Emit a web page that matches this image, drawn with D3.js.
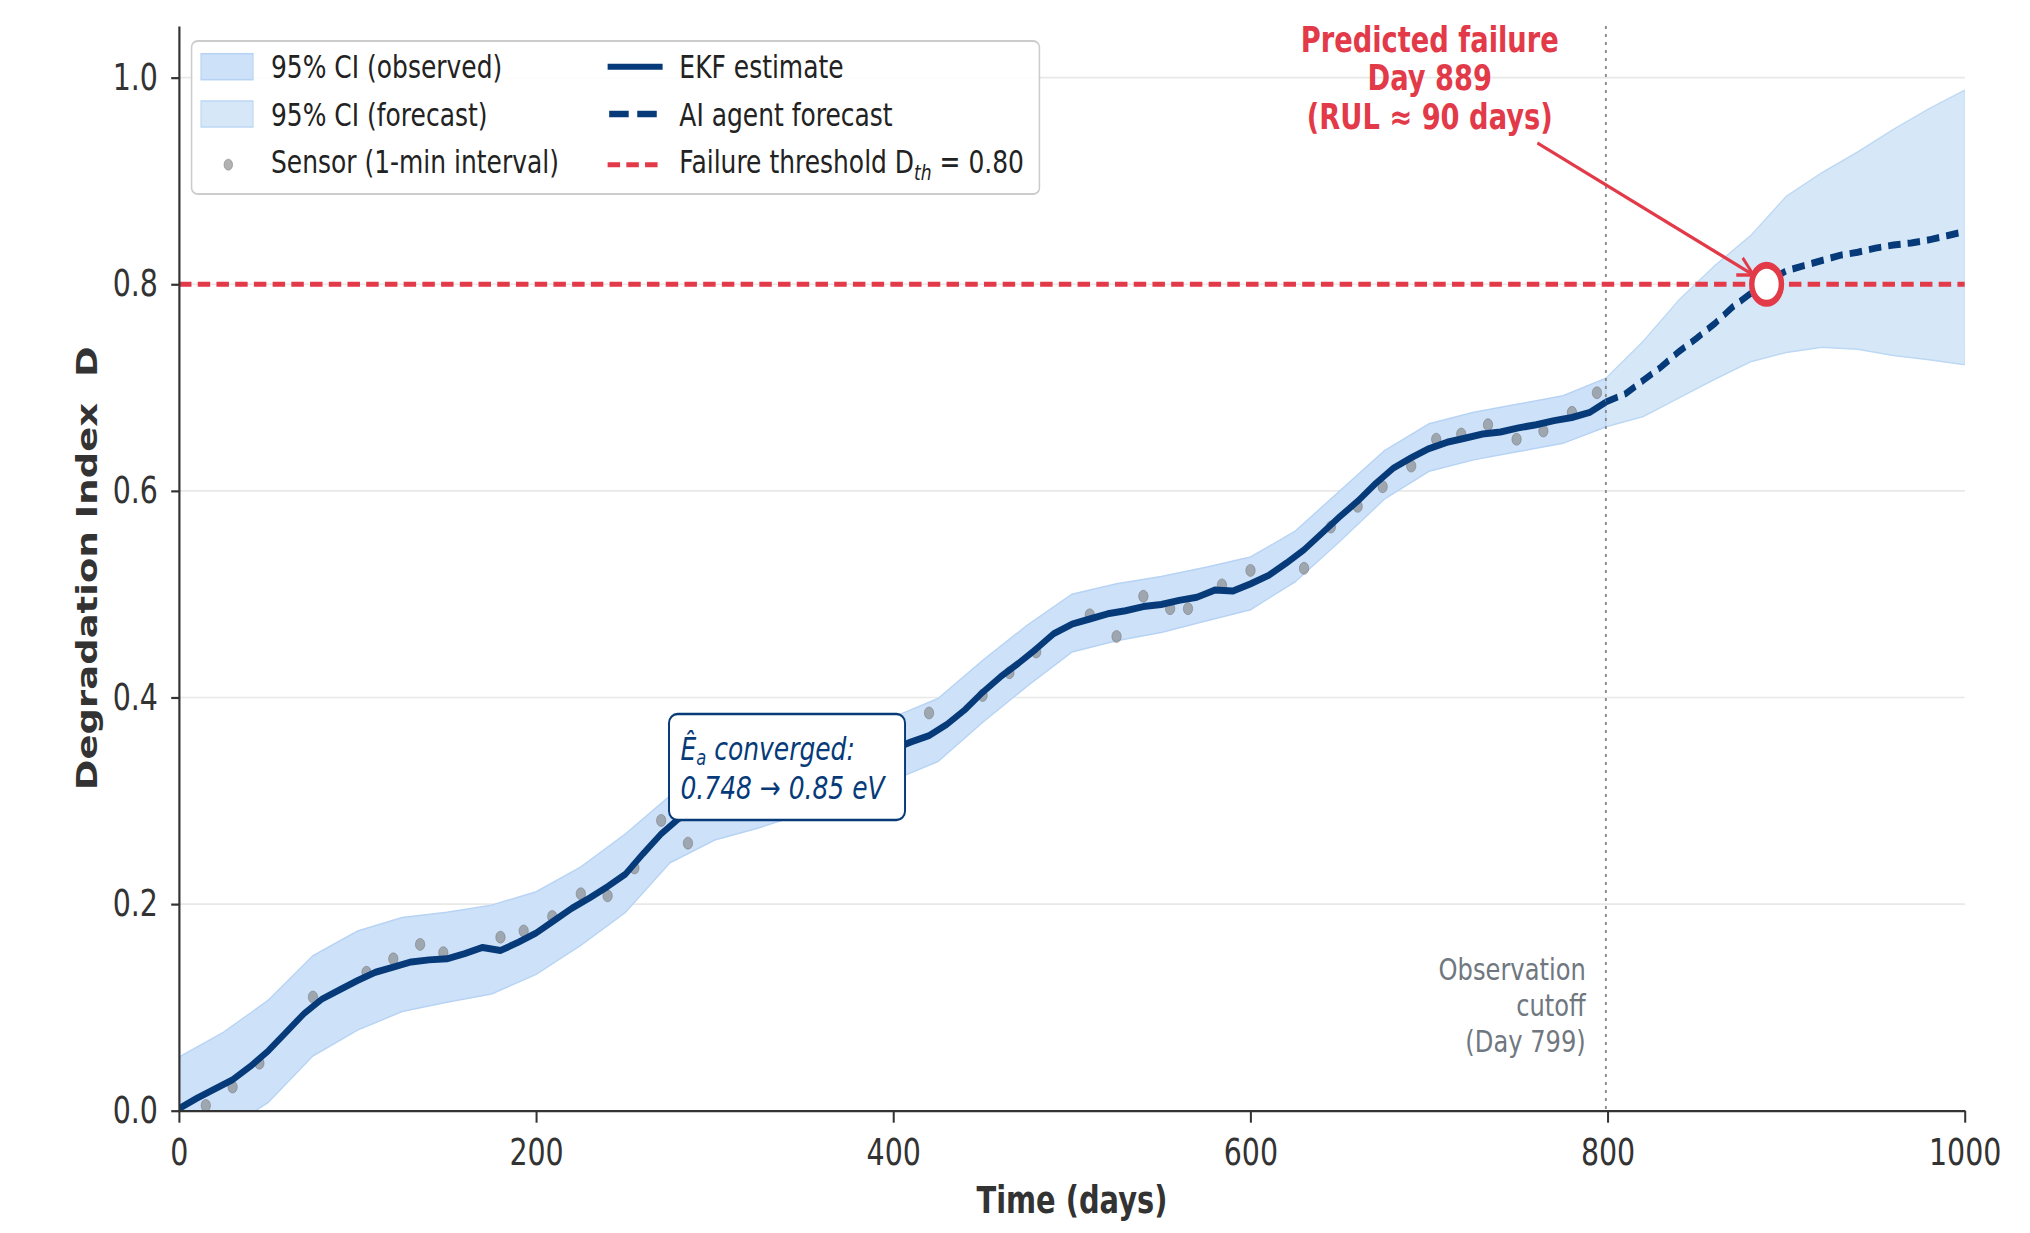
<!DOCTYPE html>
<html><head><meta charset="utf-8">
<script src="https://cdn.jsdelivr.net/npm/d3@7"></script>
<style>
html,body{margin:0;padding:0;background:#fff;}
svg{display:block;}
text{font-family:"DejaVu Sans",sans-serif;}
</style>
</head><body>
<svg id="chart"></svg>
<script>
// ---------- data ----------
const xTicks = [0, 200, 400, 600, 800, 1000];
const yTicks = [0.0, 0.2, 0.4, 0.6, 0.8, 1.0];

// EKF estimate [day, D]
const ekfObserved = [
 [0,0.002],[10,0.012],[20,0.021],[30,0.030],[40,0.043],[50,0.058],[60,0.076],[70,0.094],[80,0.108],[90,0.117],
 [100,0.126],[110,0.134],[120,0.139],[130,0.144],[140,0.146],[150,0.147],[160,0.152],[170,0.158],[180,0.155],[190,0.163],
 [200,0.172],[210,0.184],[220,0.196],[230,0.206],[240,0.217],[250,0.229],[260,0.249],[270,0.268],[280,0.283],[290,0.290],
 [300,0.293],[310,0.298],[320,0.303],[330,0.308],[340,0.313],[350,0.318],[360,0.323],[370,0.330],[380,0.337],[390,0.344],
 [400,0.350],[410,0.357],[420,0.363],[430,0.374],[440,0.388],[450,0.405],[460,0.420],[470,0.433],[480,0.447],[490,0.462],
 [500,0.471],[510,0.476],[520,0.481],[530,0.484],[540,0.488],[550,0.490],[560,0.494],[570,0.497],[580,0.504],[590,0.503],
 [600,0.510],[610,0.518],[620,0.530],[630,0.543],[640,0.559],[650,0.575],[660,0.590],[670,0.607],[680,0.622],[690,0.632],
 [700,0.641],[710,0.647],[720,0.651],[730,0.655],[740,0.657],[750,0.661],[760,0.664],[770,0.668],[780,0.671],[790,0.676],
 [799,0.686]
];
// AI agent forecast [day, D]
const aiForecast = [
 [799,0.686],[810,0.694],[820,0.707],[830,0.720],[840,0.735],[850,0.748],[860,0.762],[870,0.778],[880,0.791],[890,0.803],
 [900,0.813],[910,0.818],[920,0.823],[930,0.828],[940,0.831],[950,0.835],[960,0.838],[970,0.840],[980,0.843],[990,0.847],
 [1000,0.851]
];
// 95% CI observed [day, lower, upper]
const ciObserved = [
 [0,-0.045,0.052],[25,-0.020,0.076],[50,0.008,0.107],[75,0.053,0.150],[100,0.078,0.174],[125,0.096,0.187],
 [150,0.105,0.192],[175,0.113,0.199],[200,0.132,0.212],[225,0.160,0.236],[250,0.192,0.268],[275,0.240,0.305],
 [300,0.262,0.325],[325,0.274,0.337],[350,0.288,0.350],[375,0.303,0.364],[400,0.320,0.381],[425,0.338,0.399],
 [450,0.376,0.436],[475,0.411,0.470],[500,0.444,0.500],[525,0.455,0.510],[550,0.463,0.517],[575,0.474,0.526],
 [600,0.485,0.536],[625,0.512,0.561],[650,0.551,0.600],[675,0.592,0.639],[700,0.619,0.665],[725,0.630,0.676],
 [750,0.638,0.684],[775,0.646,0.692],[799,0.662,0.709]
];
// 95% CI forecast [day, lower, upper]
const ciForecast = [
 [799,0.662,0.709],[820,0.672,0.745],[840,0.690,0.785],[860,0.708,0.818],[880,0.725,0.847],[900,0.734,0.885],
 [920,0.739,0.908],[940,0.737,0.928],[960,0.731,0.950],[980,0.727,0.970],[1000,0.722,0.988]
];
// sensor samples [day, D]
const sensor = [
 [15,0.005],[30,0.023],[45,0.046],[75,0.110],[105,0.134],[120,0.147],[135,0.161],[148,0.153],[180,0.168],[193,0.174],
 [209,0.188],[225,0.210],[240,0.208],[255,0.235],[270,0.281],[285,0.259],[420,0.385],[450,0.402],[465,0.424],[480,0.444],
 [510,0.480],[525,0.459],[540,0.498],[555,0.486],[565,0.486],[584,0.509],[600,0.523],[630,0.525],[645,0.565],[660,0.585],
 [674,0.604],[690,0.624],[704,0.650],[718,0.655],[733,0.664],[749,0.650],[764,0.658],[780,0.676],[794,0.695]
];
const threshold = 0.80;
const cutoffDay = 799;
const failureDay = 889;
const legendLeft = ["95% CI (observed)", "95% CI (forecast)", "Sensor (1-min interval)"];
const legendRight = ["EKF estimate", "AI agent forecast", "Failure threshold D"];
const cutoffLabel = ["Observation", "cutoff", "(Day 799)"];
const failLabel = ["Predicted failure", "Day 889", "(RUL \u2248 90 days)"];

// ---------- styles ----------
const C = {
  navy: "#063a78", obsFill: "#cde1f9", obsEdge: "#b7d3f4", fcFill: "#d6e8f8", fcEdge: "#bcd8f4",
  red: "#e23a48", grid: "#e8e8e8", axis: "#333333", gray: "#6f7780", dot: "#7f7f7f"
};

const W = 2030, H = 1233, S = 0.78, VW = W / S;
const svg = d3.select("#chart").attr("width", W).attr("height", H)
  .attr("viewBox", `0 0 ${VW} ${H}`).attr("preserveAspectRatio", "none");

const m = {l: 229.5, r: 2519, t: 26, b: 1110.7};
const x = d3.scaleLinear().domain([0, 1000]).range([m.l, m.r]);
const y = d3.scaleLinear().domain([0, 1.05]).range([m.b, m.t]);

svg.append("defs").append("clipPath").attr("id", "clip")
  .append("rect").attr("x", m.l).attr("y", m.t).attr("width", m.r - m.l).attr("height", m.b - m.t);

// grid
svg.append("g").selectAll("line").data(yTicks.filter(d => d > 0)).join("line")
  .attr("x1", m.l).attr("x2", m.r).attr("y1", d => y(d)).attr("y2", d => y(d))
  .attr("stroke", C.grid).attr("stroke-width", 1.6);

const plot = svg.append("g").attr("clip-path", "url(#clip)");

const area = d3.area().x(d => x(d[0])).y0(d => y(d[1])).y1(d => y(d[2]));
plot.append("path").datum(ciObserved).attr("d", area)
  .attr("fill", C.obsFill).attr("stroke", C.obsEdge).attr("stroke-width", 1.5);
plot.append("path").datum(ciForecast).attr("d", area)
  .attr("fill", C.fcFill).attr("stroke", C.fcEdge).attr("stroke-width", 1.5);

// cutoff line
plot.append("line").attr("x1", x(cutoffDay)).attr("x2", x(cutoffDay)).attr("y1", m.t).attr("y2", m.b)
  .attr("stroke", "#8a8a8a").attr("stroke-width", 2.4).attr("stroke-dasharray", "3,5");

// threshold
plot.append("line").attr("x1", m.l).attr("x2", m.r).attr("y1", y(threshold)).attr("y2", y(threshold))
  .attr("stroke", C.red).attr("stroke-width", 5).attr("stroke-dasharray", "16,8");

// sensor dots
plot.append("g").selectAll("circle").data(sensor).join("circle")
  .attr("cx", d => x(d[0])).attr("cy", d => y(d[1])).attr("r", 6)
  .attr("fill", C.dot).attr("fill-opacity", 0.6).attr("stroke", "#6a6a6a").attr("stroke-opacity", 0.5).attr("stroke-width", 1);

const line = d3.line().x(d => x(d[0])).y(d => y(d[1]));
plot.append("path").datum(ekfObserved).attr("d", line)
  .attr("fill", "none").attr("stroke", C.navy).attr("stroke-width", 7).attr("stroke-linejoin", "round");
plot.append("path").datum(aiForecast).attr("d", line)
  .attr("fill", "none").attr("stroke", C.navy).attr("stroke-width", 7).attr("stroke-dasharray", "16,9");

// failure marker
svg.append("circle").attr("cx", x(failureDay)).attr("cy", y(threshold)).attr("r", 19)
  .attr("fill", "#fff").attr("stroke", C.red).attr("stroke-width", 7);

// arrow
const ax0 = 1971, ay0 = 143, ax1 = 2248, ay1 = 275;
svg.append("line").attr("x1", ax0).attr("y1", ay0).attr("x2", ax1).attr("y2", ay1)
  .attr("stroke", C.red).attr("stroke-width", 3.5);
{
  const ang = Math.atan2(ay1 - ay0, ax1 - ax0), L = 22, spread = 0.45;
  const p1 = [ax1 - L * Math.cos(ang - spread), ay1 - L * Math.sin(ang - spread)];
  const p2 = [ax1 - L * Math.cos(ang + spread), ay1 - L * Math.sin(ang + spread)];
  svg.append("path").attr("d", `M${p1[0]},${p1[1]}L${ax1},${ay1}L${p2[0]},${p2[1]}`)
    .attr("fill", "none").attr("stroke", C.red).attr("stroke-width", 3.5);
}

// axes
const xAxis = svg.append("g").attr("transform", `translate(0,${m.b})`)
  .call(d3.axisBottom(x).tickValues(xTicks).tickSize(12).tickSizeOuter(0).tickPadding(16).tickFormat(d3.format("d")));
xAxis.attr("font-size", 36.5).attr("font-family", "DejaVu Sans");
xAxis.select(".domain").attr("stroke", C.axis).attr("stroke-width", 2.2);
xAxis.selectAll(".tick line").attr("stroke", C.axis).attr("stroke-width", 2.6);
xAxis.selectAll(".tick text").attr("fill", C.axis);

const yAxis = svg.append("g").attr("transform", `translate(${m.l},0)`)
  .call(d3.axisLeft(y).tickValues(yTicks).tickSize(10).tickSizeOuter(0).tickPadding(17).tickFormat(d3.format(".1f")));
yAxis.attr("font-size", 36.5).attr("font-family", "DejaVu Sans");
yAxis.select(".domain").attr("stroke", C.axis).attr("stroke-width", 2.8);
yAxis.selectAll(".tick line").attr("stroke", C.axis).attr("stroke-width", 2.2);
yAxis.selectAll(".tick text").attr("fill", C.axis);

// axis labels
svg.append("text").attr("x", (m.l + m.r) / 2).attr("y", 1213).attr("text-anchor", "middle")
  .attr("font-size", 37).attr("font-weight", "bold").attr("fill", C.axis).text("Time (days)");
svg.append("text").attr("transform", `translate(124,${(m.t + m.b) / 2}) rotate(-90)`)
  .attr("text-anchor", "middle").attr("font-size", 37).attr("font-weight", "bold").attr("fill", C.axis)
  .style("white-space", "pre").text("Degradation Index  D");

// cutoff label
svg.append("g").selectAll("text").data(cutoffLabel).join("text")
  .attr("x", 2033).attr("y", (d, i) => 980 + i * 36).attr("text-anchor", "end")
  .attr("font-size", 31).attr("fill", C.gray).text(d => d);

// failure label
svg.append("g").selectAll("text").data(failLabel).join("text")
  .attr("x", 1833).attr("y", (d, i) => 52 + i * 38.3).attr("text-anchor", "middle")
  .attr("font-size", 35).attr("font-weight", "bold").attr("fill", C.red).text(d => d);

// Ea box
svg.append("rect").attr("x", 857.7).attr("y", 714).attr("width", 302.6).attr("height", 106)
  .attr("rx", 11).attr("ry", 9).attr("fill", "#fff").attr("stroke", C.navy).attr("stroke-width", 2.5);
const eaT1 = svg.append("text").attr("x", 872.4).attr("y", 760).attr("font-size", 32)
  .attr("font-style", "italic").attr("fill", C.navy);
eaT1.append("tspan").text("\u00CA");
eaT1.append("tspan").attr("font-size", 21).attr("dy", 5).text("a");
eaT1.append("tspan").attr("dy", -5).text(" converged:");
svg.append("text").attr("x", 872.4).attr("y", 799).attr("font-size", 32)
  .attr("font-style", "italic").attr("fill", C.navy).text("0.748 \u2192 0.85 eV");

// legend
const lg = svg.append("g");
lg.append("rect").attr("x", 245.6).attr("y", 41).attr("width", 1087).attr("height", 153)
  .attr("rx", 8).attr("ry", 6).attr("fill", "#fff").attr("fill-opacity", 0.9)
  .attr("stroke", "#cccccc").attr("stroke-width", 2);
const rowY = [66.7, 114, 161.7];
lg.append("rect").attr("x", 257.7).attr("y", rowY[0] - 13).attr("width", 66.7).attr("height", 26)
  .attr("fill", C.obsFill).attr("stroke", C.obsEdge).attr("stroke-width", 1.5);
lg.append("rect").attr("x", 257.7).attr("y", rowY[1] - 13).attr("width", 66.7).attr("height", 26)
  .attr("fill", C.fcFill).attr("stroke", C.fcEdge).attr("stroke-width", 1.5);
lg.append("circle").attr("cx", 292.7).attr("cy", rowY[2] + 3).attr("r", 5.5)
  .attr("fill", C.dot).attr("fill-opacity", 0.6).attr("stroke", "#6a6a6a").attr("stroke-opacity", 0.5);
lg.selectAll("text.l").data(legendLeft).join("text").attr("class", "l")
  .attr("x", 347.4).attr("y", (d, i) => rowY[i] + 11.6).attr("font-size", 32).attr("fill", "#222").text(d => d);
lg.append("line").attr("x1", 779).attr("x2", 849.5).attr("y1", rowY[0]).attr("y2", rowY[0])
  .attr("stroke", C.navy).attr("stroke-width", 6);
lg.append("line").attr("x1", 781).attr("x2", 849.5).attr("y1", rowY[1]).attr("y2", rowY[1])
  .attr("stroke", C.navy).attr("stroke-width", 6.5).attr("stroke-dasharray", "25,11");
lg.append("line").attr("x1", 779).attr("x2", 849.5).attr("y1", rowY[2] + 3).attr("y2", rowY[2] + 3)
  .attr("stroke", C.red).attr("stroke-width", 5).attr("stroke-dasharray", "16,8");
lg.append("text").attr("x", 871).attr("y", rowY[0] + 11.6).attr("font-size", 32).attr("fill", "#222").text(legendRight[0]);
lg.append("text").attr("x", 871).attr("y", rowY[1] + 11.6).attr("font-size", 32).attr("fill", "#222").text(legendRight[1]);
const th = lg.append("text").attr("x", 871).attr("y", rowY[2] + 11.6).attr("font-size", 32).attr("fill", "#222");
th.append("tspan").text(legendRight[2]);
th.append("tspan").attr("font-size", 22).attr("font-style", "italic").attr("dy", 7).text("th");
th.append("tspan").attr("dy", -7).text(" = 0.80");
</script>
</body></html>
